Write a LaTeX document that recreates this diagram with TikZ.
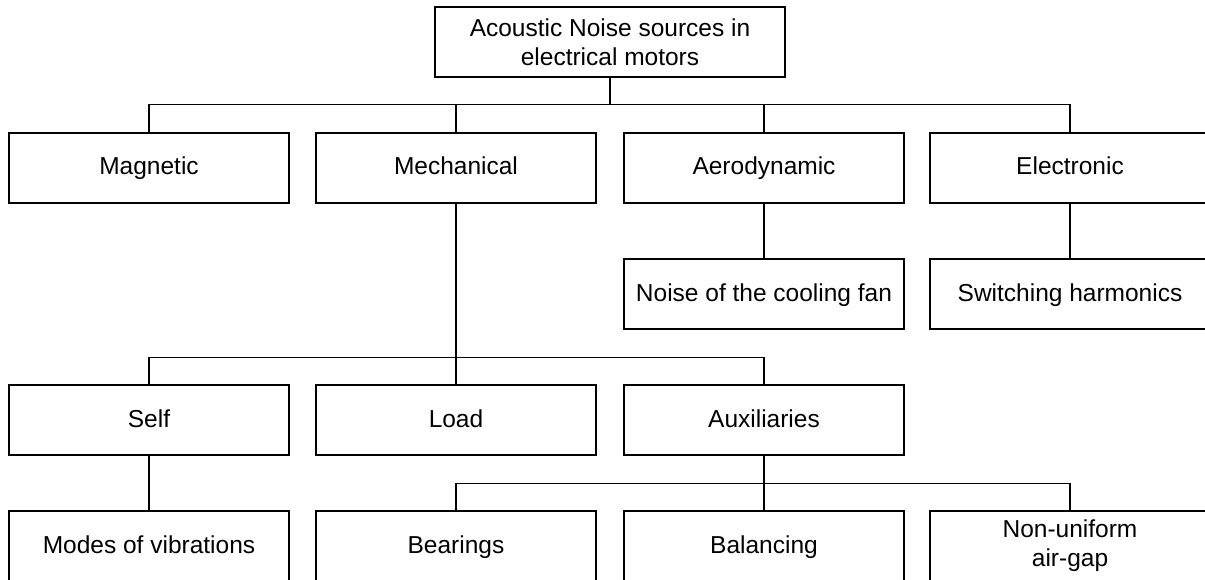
\documentclass[tikz,border=0pt]{standalone}
\usepackage{fontspec}
\setmainfont{Liberation Sans}
\usepackage{tikz}
\usetikzlibrary{positioning}

\begin{document}
\begin{tikzpicture}[x=1pt, y=-1pt, line width=1.2pt,
  block/.style={draw, rectangle, minimum width=280pt, minimum height=70pt, inner sep=0pt, align=center,
    text height=19pt, text depth=5pt, font=\fontsize{24.5}{29}\selectfont},
  twoline/.style={block, text height=, text depth=},
  wide/.style={twoline, minimum width=350pt}]
\useasboundingbox (0,0) rectangle (1205,580);

\node[wide] (AcousticNoise) at (610,42) {Acoustic Noise sources in\\electrical motors};

\node[block] (Magnetic) at (149,168) {Magnetic};
\node[block] (Mechanical) at (456,168) {Mechanical};
\node[block] (Aerodynamic) at (764,168) {Aerodynamic};
\node[block] (Electronic) at (1070,168) {Electronic};

\node[block] (CoolingFan) at (764,294) {Noise of the cooling fan};
\node[block] (Switching) at (1070,294) {Switching harmonics};

\node[block] (Self) at (149,420) {Self};
\node[block] (Load) at (456,420) {Load};
\node[block] (Auxiliaries) at (764,420) {Auxiliaries};

\node[block] (Modes) at (149,546) {Modes of vibrations};
\node[block] (Bearings) at (456,546) {Bearings};
\node[block] (Balancing) at (764,546) {Balancing};
\node[twoline] (NonUniform) at (1070,546) {Non-uniform\\air-gap};

\foreach \c in {Magnetic,Mechanical,Aerodynamic,Electronic}
  \draw (AcousticNoise.south) -- ++(0,27) -| (\c.north);
\foreach \c in {Self,Load,Auxiliaries}
  \draw (Mechanical.south) -- ++(0,154) -| (\c.north);
\foreach \c in {Bearings,Balancing,NonUniform}
  \draw (Auxiliaries.south) -- ++(0,28) -| (\c.north);

\draw (Aerodynamic) -- (CoolingFan);
\draw (Electronic) -- (Switching);
\draw (Self) -- (Modes);
\end{tikzpicture}
\end{document}
